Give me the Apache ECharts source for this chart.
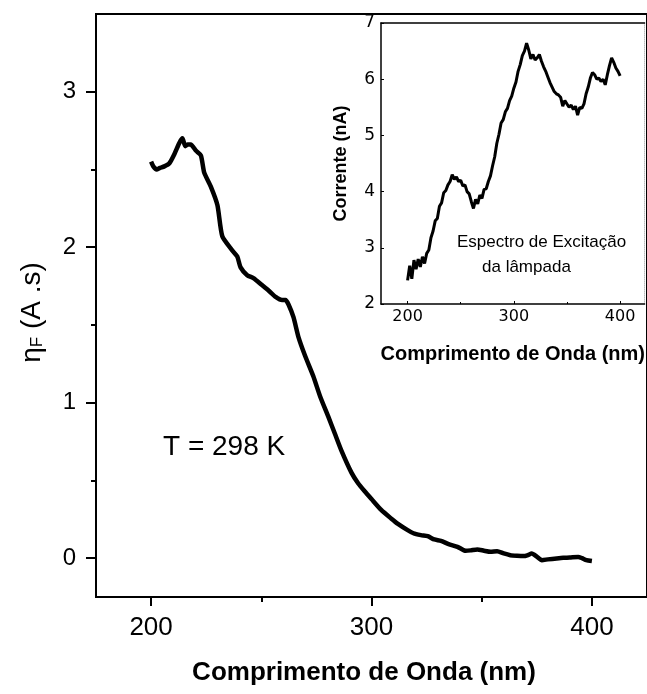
<!DOCTYPE html>
<html><head><meta charset="utf-8">
<script src="https://cdn.jsdelivr.net/npm/echarts@6/dist/echarts.min.js"></script>
<style>html,body{margin:0;padding:0;background:#fff}#c{width:647px;height:694px}</style>
</head><body><div id="c"></div>
<script>
// ---- main curve: eta_F vs wavelength ----
const mainWavelength = [200,201,202.5,204,206,208.3,210.6,212.8,214.2,215.5,216.5,218,220.4,222.6,224.1,227.1,230.1,232.3,236.8,239.1,240.6,243.6,246.6,250,253.4,256.5,259.4,261,262.4,264.6,266.9,269.9,273.6,276.7,280.4,283.4,286.4,290.9,294,296.9,300,304.4,308.9,312,316.4,319,322.4,325.5,328.5,331.5,335,339,342.7,345,348,351,354,357,360,363,366,369,371,372.7,375,377.3,380,384,387,390,393.8,395.5,397.5,400];
const mainEta = [2.55,2.52,2.50,2.51,2.52,2.54,2.60,2.67,2.70,2.65,2.66,2.66,2.62,2.59,2.48,2.39,2.27,2.07,1.98,1.94,1.87,1.82,1.80,1.76,1.72,1.68,1.66,1.66,1.63,1.55,1.42,1.30,1.17,1.04,0.91,0.80,0.69,0.55,0.48,0.43,0.38,0.31,0.255,0.22,0.18,0.16,0.148,0.141,0.12,0.111,0.09,0.073,0.047,0.05,0.056,0.048,0.041,0.045,0.03,0.019,0.015,0.013,0.02,0.03,0.01,-0.013,-0.008,-0.002,0.002,0.004,0.008,0.0,-0.013,-0.019];

// ---- inset curve: lamp excitation spectrum ----
const insetWavelength = [200,202,204,206,208,210,212,214,216,218,220,222,224,226,228,230,232,234,236,238,240,242,244,246,248,250,252,254,256,258,260,262,264,266,268,270,272,274,276,278,280,282,284,286,288,290,292,294,296,298,300,302,304,306,308,310,312,314,316,318,320,322,324,326,328,330,332,334,336,338,340,342,344,346,348,350,352,354,356,358,360,362,364,366,368,370,372,374,376,378,380,382,384,386,388,390,392,394,396,398,400];
const insetCurrent = [2.42,2.68,2.45,2.78,2.62,2.80,2.66,2.84,2.72,2.90,2.96,3.18,3.30,3.48,3.52,3.74,3.80,3.98,4.02,4.12,4.18,4.30,4.22,4.26,4.18,4.20,4.10,4.12,4.00,3.96,3.82,3.70,3.86,3.78,3.94,3.88,4.04,4.05,4.18,4.28,4.46,4.62,4.86,5.02,5.22,5.28,5.42,5.48,5.62,5.70,5.84,5.95,6.14,6.26,6.42,6.50,6.64,6.52,6.36,6.44,6.34,6.38,6.44,6.32,6.22,6.14,6.04,5.94,5.86,5.78,5.74,5.72,5.68,5.52,5.62,5.56,5.50,5.54,5.46,5.52,5.36,5.50,5.48,5.56,5.74,5.86,6.02,6.12,6.08,6.00,6.02,5.96,6.00,5.90,6.08,6.24,6.38,6.30,6.20,6.14,6.06];

// ---- ticks ----
const mainXTicks = [200,300,400];
const mainXMinor = [250,350];
const mainYTicks = [0,1,2,3];
const mainYMinor = [0.5,1.5,2.5];
const insetXTicks = [200,300,400];
const insetXMinor = [250,350];
const insetYTicks = [2,3,4,5,6,7];

const F = 'Liberation Sans, Arial, sans-serif';
const FD = 'DejaVu Sans, sans-serif';
const chart = echarts.init(document.getElementById('c'), null, {renderer:'canvas'});

const option = {
  animation: false,
  backgroundColor: '#fff',
  grid: [
    {left:96, top:14, width:555, height:583, show:true, borderColor:'#000', borderWidth:2, backgroundColor:'transparent'},
    {left:381, top:23, width:265, height:281}
  ],
  xAxis: [
    {gridIndex:0, type:'value', position:'bottom', min:175, max:425,
     axisLine:{show:true, onZero:false, lineStyle:{color:'#000', width:2}},
     axisTick:{show:true, inside:false, length:9, customValues:mainXTicks, lineStyle:{color:'#000', width:2}},
     axisLabel:{customValues:mainXTicks, fontSize:26, color:'#000', fontFamily:F, margin:18},
     splitLine:{show:false}},
    {gridIndex:0, type:'value', position:'bottom', min:175, max:425,
     axisLine:{show:false, onZero:false},
     axisTick:{show:true, inside:false, length:5, customValues:mainXMinor, lineStyle:{color:'#000', width:2}},
     axisLabel:{show:false}, splitLine:{show:false}},
    {gridIndex:1, type:'value', position:'bottom', min:175, max:423,
     axisLine:{show:true, onZero:false, lineStyle:{color:'#000', width:1.5}},
     axisTick:{show:true, inside:true, length:3, customValues:insetXTicks, lineStyle:{color:'#000', width:1}},
     axisLabel:{customValues:insetXTicks, fontSize:16, color:'#000', fontFamily:FD, margin:5},
     name:'Comprimento de Onda (nm)', nameLocation:'middle', nameGap:40,
     nameTextStyle:{fontSize:20, fontWeight:'bold', fontFamily:F, color:'#000'},
     splitLine:{show:false}},
    {gridIndex:1, type:'value', position:'top', min:175, max:423,
     axisLine:{show:true, onZero:false, lineStyle:{color:'#000', width:1.5}},
     axisTick:{show:false}, axisLabel:{show:false}, splitLine:{show:false}},
    {gridIndex:1, type:'value', position:'bottom', min:175, max:423,
     axisLine:{show:false, onZero:false},
     axisTick:{show:true, inside:true, length:2, customValues:insetXMinor, lineStyle:{color:'#000', width:1}},
     axisLabel:{show:false}, splitLine:{show:false}}
  ],
  yAxis: [
    {gridIndex:0, type:'value', position:'left', min:-0.25, max:3.5,
     axisLine:{show:true, onZero:false, lineStyle:{color:'#000', width:2}},
     axisTick:{show:true, inside:false, length:10, customValues:mainYTicks, lineStyle:{color:'#000', width:2}},
     axisLabel:{customValues:mainYTicks, fontSize:24, color:'#000', fontFamily:F, margin:20},
     name:'{e|η}{s|F}{e| (A .s)}', nameLocation:'middle', nameGap:50, nameRotate:90,
     nameTextStyle:{color:'#000', fontFamily:F, padding:[0,0,0,-14], rich:{
       e:{fontSize:28, fontFamily:F, color:'#000', verticalAlign:'bottom'},
       s:{fontSize:17, fontFamily:F, color:'#000', verticalAlign:'bottom'}}},
     splitLine:{show:false}},
    {gridIndex:0, type:'value', position:'left', min:-0.25, max:3.5,
     axisLine:{show:false, onZero:false},
     axisTick:{show:true, inside:false, length:5, customValues:mainYMinor, lineStyle:{color:'#000', width:2}},
     axisLabel:{show:false}, splitLine:{show:false}},
    {gridIndex:1, type:'value', position:'left', min:2, max:7, interval:1,
     axisLine:{show:true, onZero:false, lineStyle:{color:'#000', width:1.5}},
     axisTick:{show:true, inside:true, length:3, customValues:insetYTicks, lineStyle:{color:'#000', width:1}},
     axisLabel:{customValues:insetYTicks, fontSize:17, color:'#000', fontFamily:FD, margin:6},
     name:'Corrente (nA)', nameLocation:'middle', nameGap:31,
     nameTextStyle:{fontSize:18, fontWeight:'bold', fontFamily:F, color:'#000'},
     splitLine:{show:false}},
    {gridIndex:1, type:'value', position:'right', min:2, max:7,
     axisLine:{show:true, onZero:false, lineStyle:{color:'#bbb', width:1, type:'dotted'}},
     axisTick:{show:false}, axisLabel:{show:false}, splitLine:{show:false}}
  ],
  series: [
    {type:'line', xAxisIndex:0, yAxisIndex:0, showSymbol:false, smooth:0.2,
     data: mainWavelength.map((x,i)=>[x, mainEta[i]]),
     lineStyle:{color:'#000', width:4.5}},
    {type:'line', xAxisIndex:2, yAxisIndex:2, showSymbol:false,
     data: insetWavelength.map((x,i)=>[x, insetCurrent[i]]),
     lineStyle:{color:'#000', width:3}}
  ],
  graphic: [
    {type:'text', x:364, y:673, style:{text:'Comprimento de Onda (nm)', fontSize:26, fontWeight:'bold', fontFamily:F, fill:'#000', align:'center', verticalAlign:'middle', textAlign:'center', textVerticalAlign:'middle'}},
    {type:'text', x:163, y:447, style:{text:'T = 298 K', fontSize:28, fontFamily:F, fill:'#000', align:'left', verticalAlign:'middle', textAlign:'left', textVerticalAlign:'middle'}},
    {type:'text', x:457, y:242, style:{text:'Espectro de Excitação', fontSize:17, fontFamily:F, fill:'#000', align:'left', verticalAlign:'middle', textAlign:'left', textVerticalAlign:'middle'}},
    {type:'text', x:482, y:267, style:{text:'da lâmpada', fontSize:17, fontFamily:F, fill:'#000', align:'left', verticalAlign:'middle', textAlign:'left', textVerticalAlign:'middle'}}
  ]
};
chart.setOption(option);
</script>
</body></html>
